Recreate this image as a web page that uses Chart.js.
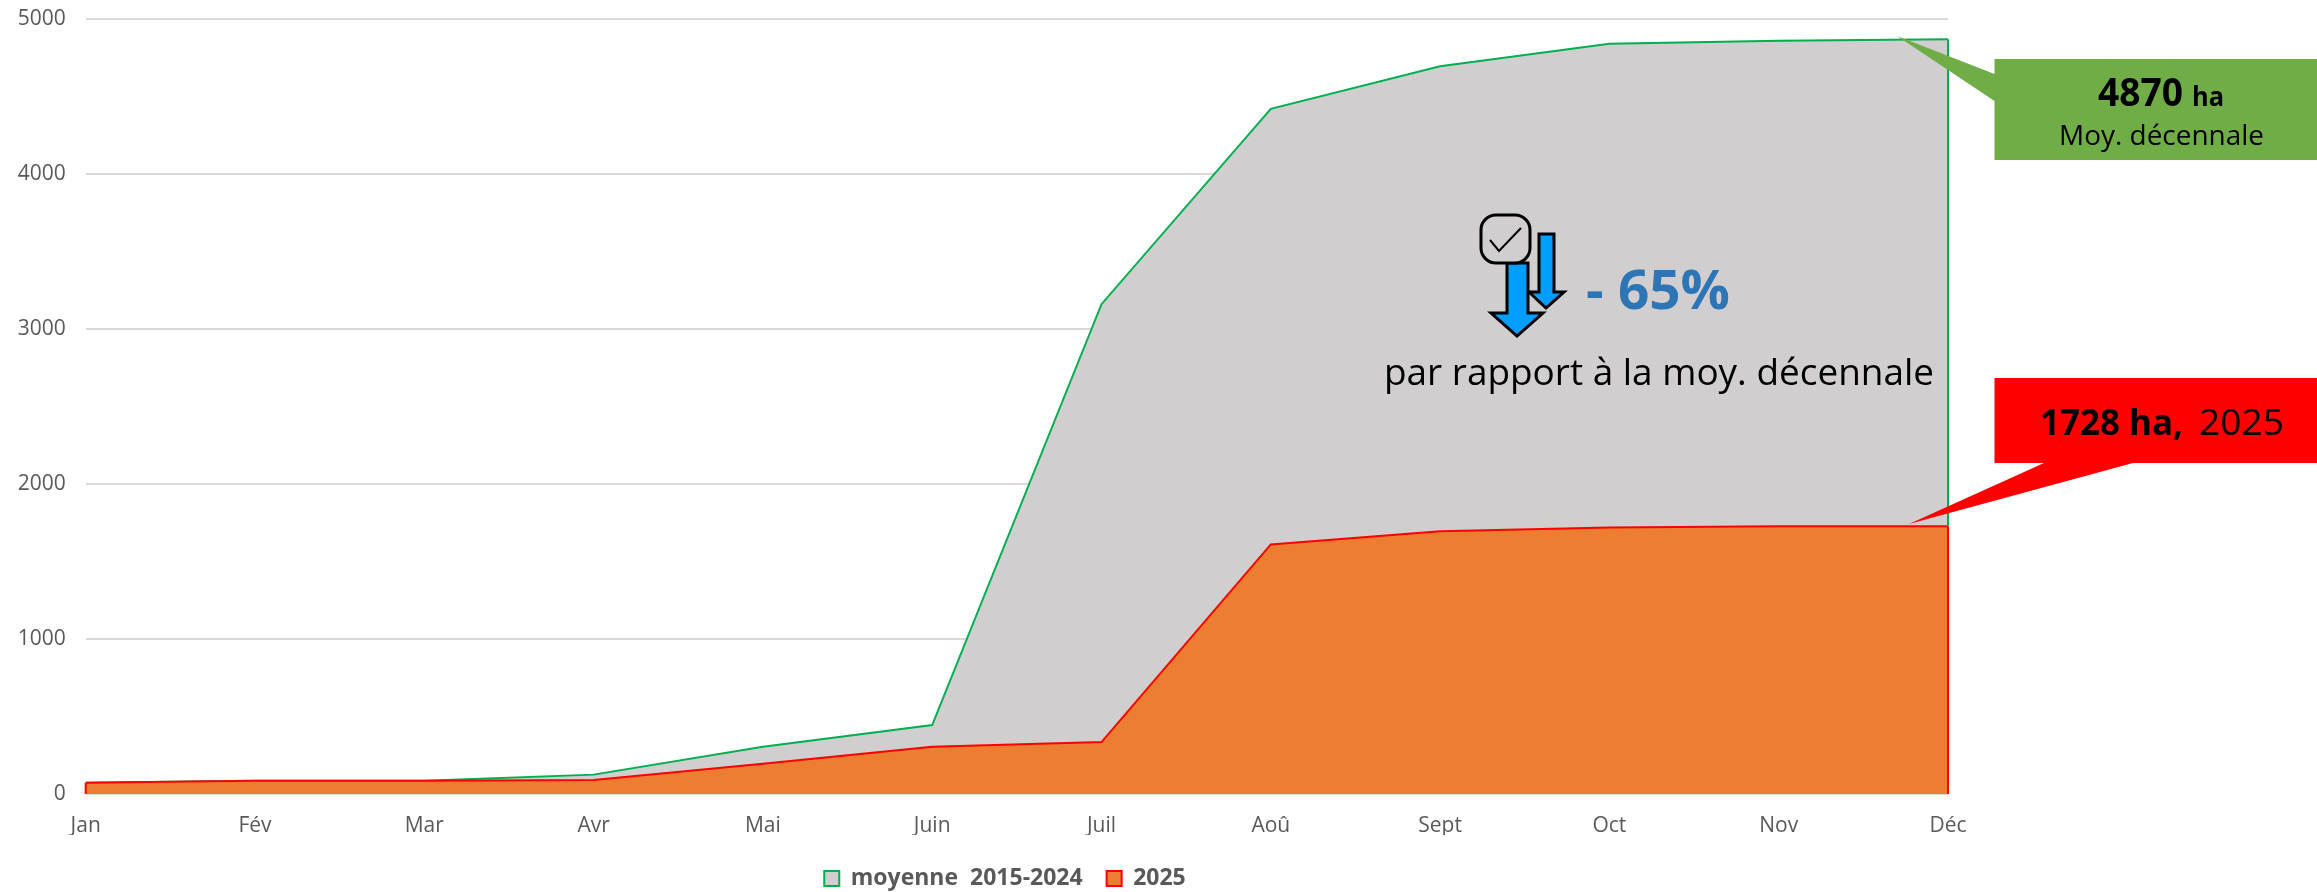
<!DOCTYPE html>
<html lang="fr"><head><meta charset="utf-8">
<style>html,body{margin:0;padding:0;background:#fff}canvas{display:block}</style>
<script src="https://cdn.jsdelivr.net/npm/chart.js@4"></script></head>
<body><canvas id="c" width="2317" height="892"></canvas>
<script>
const months=['Jan','Fév','Mar','Avr','Mai','Juin','Juil','Aoû','Sept','Oct','Nov','Déc'];
const moyenne=[72,85,85,125,305,445,3160,4420,4695,4840,4860,4870];
const annee2025=[72,85,85,90,195,305,335,1610,1695,1720,1728,1728];
const yTicks=[0,1000,2000,3000,4000,5000];
const seriesNames=['moyenne  2015-2024','2025'];
const FONT='"Open Sans"';

function fitText(ctx,str,x,y,w,font,color){
  ctx.save();ctx.font=font;ctx.fillStyle=color;ctx.textAlign='left';ctx.textBaseline='alphabetic';
  const m=ctx.measureText(str).width;
  ctx.translate(x,y);ctx.scale(w/m,1);ctx.fillText(str,0,0);ctx.restore();
}
function poly(ctx,pts,fill,stroke,lw){
  ctx.beginPath();pts.forEach((p,i)=>i?ctx.lineTo(p[0],p[1]):ctx.moveTo(p[0],p[1]));ctx.closePath();
  if(fill){ctx.fillStyle=fill;ctx.fill();}
  if(stroke){ctx.strokeStyle=stroke;ctx.lineWidth=lw;ctx.lineJoin='miter';ctx.stroke();}
}
function arrow(ctx,sl,sr,top,hy,hl,hr,tx,ty){
  poly(ctx,[[sl,top],[sr,top],[sr,hy],[hr,hy],[tx,ty],[hl,hy],[sl,hy]],'#009fff','#000',3);
}
const edges={id:'edges',afterDatasetsDraw(chart){
  const {ctx,scales:{x,y}}=chart,r=x.getPixelForValue(11),l=x.getPixelForValue(0);
  ctx.save();ctx.lineWidth=2;
  ctx.strokeStyle='#00b050';ctx.beginPath();ctx.moveTo(r,y.getPixelForValue(moyenne[11]));ctx.lineTo(r,y.getPixelForValue(annee2025[11]));ctx.stroke();
  ctx.strokeStyle='#ff0000';ctx.beginPath();ctx.moveTo(r,y.getPixelForValue(annee2025[11]));ctx.lineTo(r,y.getPixelForValue(0));ctx.stroke();
  ctx.beginPath();ctx.moveTo(l,y.getPixelForValue(annee2025[0]));ctx.lineTo(l,y.getPixelForValue(0));ctx.stroke();
  ctx.restore();
}};
const notes={id:'notes',afterDraw(chart){
  const ctx=chart.ctx;ctx.save();
  // green callout
  poly(ctx,[[1994.5,59],[2317,59],[2317,160],[1994.5,160],[1994.5,101],[1897,36],[1994.5,74]],'#70ad47');
  fitText(ctx,'4870',2098,106,85,'bold 40px '+FONT,'#000');
  fitText(ctx,'ha',2192,106,32,'bold 26px '+FONT,'#000');
  fitText(ctx,'Moy. décennale',2059,145,205,'27px '+FONT,'#000');
  // red callout
  poly(ctx,[[1994.5,378],[2317,378],[2317,463],[2133,463],[1909,524],[2044,463],[1994.5,463]],'#ff0000');
  fitText(ctx,'1728 ha,',2040,435,143,'bold 36px '+FONT,'#000');
  fitText(ctx,'2025',2199,435,85,'36px '+FONT,'#000');
  // icon
  arrow(ctx,1539,1554,234,292,1529,1564,1546,308);
  arrow(ctx,1507,1528,263,313,1491,1543,1517,336);
  ctx.beginPath();ctx.roundRect(1481,215,49,48,15);ctx.fillStyle='#d0cece';ctx.fill();ctx.strokeStyle='#000';ctx.lineWidth=3;ctx.stroke();
  ctx.beginPath();ctx.moveTo(1490,240);ctx.lineTo(1499,251);ctx.lineTo(1521,228);ctx.lineWidth=2;ctx.stroke();
  // text
  fitText(ctx,'- 65%',1586,309,144,'bold 54px '+FONT,'#2e75b6');
  fitText(ctx,'par rapport à la moy. décennale',1384,385,550,'36px '+FONT,'#000');
  ctx.restore();
}};
const legendPos={id:'legendPos',afterLayout(chart){
  const lg=chart.legend;lg.left=0;lg.right=2010;lg.top=843;lg.bottom=892;
}};
new Chart(document.getElementById('c'),{
  type:'line',
  data:{labels:months,datasets:[
    {label:seriesNames[0],data:moyenne,borderColor:'#00b050',backgroundColor:'#d0cece',borderWidth:2,fill:'origin',pointRadius:0,tension:0,order:2},
    {label:seriesNames[1],data:annee2025,borderColor:'#ff0000',backgroundColor:'#ed7d31',borderWidth:2,fill:'origin',pointRadius:0,tension:0,order:1}
  ]},
  plugins:[edges,notes,legendPos],
  options:{
    responsive:false,animation:false,
    layout:{padding:{left:0,right:369,top:19,bottom:0}},
    plugins:{tooltip:{enabled:false},title:{display:false},
      legend:{position:'bottom',labels:{sort:(a,b)=>a.datasetIndex-b.datasetIndex,boxWidth:15,boxHeight:15,padding:24,font:{family:FONT,size:23,weight:'bold'},color:'#595959'}}},
    scales:{
      x:{type:'category',offset:false,grid:{display:false},border:{display:false},
        ticks:{color:'#595959',font:{family:FONT,size:21},maxRotation:0,autoSkip:false,padding:11},
        afterFit(s){s.height=41;s.paddingLeft=0;s.paddingRight=0;}},
      y:{min:0,max:5000,grid:{color:'#d9d9d9',lineWidth:2,drawTicks:false},border:{display:false},
        afterBuildTicks(s){s.ticks=yTicks.map(v=>({value:v}));},
        ticks:{color:'#595959',font:{family:FONT,size:21},padding:20,callback:v=>String(v)},
        afterFit(s){s.width=85.7;s.paddingTop=0;s.paddingBottom=0;}}
    }
  }
});
</script></body></html>
